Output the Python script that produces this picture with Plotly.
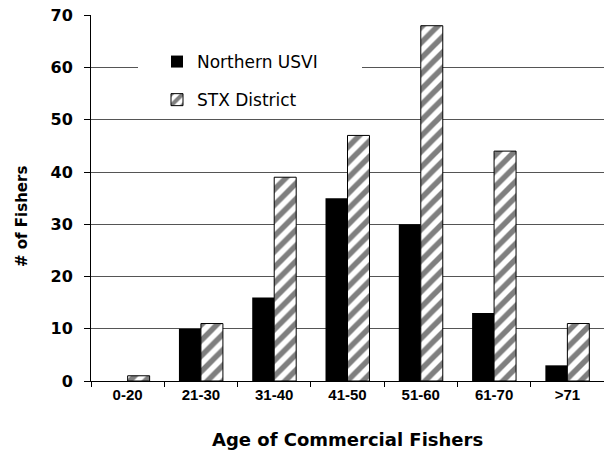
import plotly.graph_objects as go

categories = ["0-20", "21-30", "31-40", "41-50", "51-60", "61-70", ">71"]
northern_usvi = [0, 10, 16, 35, 30, 13, 3]
stx_district = [1, 11, 39, 47, 68, 44, 11]
y_ticks = [0, 10, 20, 30, 40, 50, 60, 70]

ARIAL = "Liberation Sans, Arial, sans-serif"
WIDE = "DejaVu Sans, Verdana, sans-serif"

# the page body margin is removed below, so the figure fills the window
W, H = 604, 450
L, T = 91, 15
B = H - 381
PW, PH = W - L, H - T - B


def px(xs):
    """screen x -> paper x"""
    return (xs - L) / PW


def py(ys):
    """screen y -> paper y"""
    return (H - B - ys) / PH


fig = go.Figure()
fig.add_trace(go.Bar(
    x=categories, y=northern_usvi, name="Northern USVI",
    marker=dict(color="black", line=dict(color="black", width=0)),
    legendgroup="a",
))
fig.add_trace(go.Bar(
    x=categories, y=stx_district, name="STX District",
    marker=dict(color="white", line=dict(color="black", width=1),
                pattern=dict(shape="/", fgcolor="black", bgcolor="white",
                             size=11, solidity=0.5)),
    legendgroup="b",
))

# white legend box that interrupts the gridlines
fig.add_shape(type="rect", xref="paper", yref="paper",
              x0=px(138), x1=px(362), y0=py(112), y1=py(22),
              fillcolor="white", line=dict(width=0), layer="above")

fig.add_annotation(text="Age of Commercial Fishers", xref="paper", yref="paper",
                   x=0.5, y=py(439), xanchor="center", yanchor="middle",
                   showarrow=False,
                   font=dict(size=18, family=WIDE, weight="bold", color="black"))
fig.add_annotation(text="# of Fishers", xref="paper", yref="paper",
                   x=px(22), y=py(217), xanchor="center", yanchor="middle",
                   textangle=-90, showarrow=False,
                   font=dict(size=15, family=WIDE, weight="bold", color="black"))

fig.update_layout(
    width=W, height=H,
    margin=dict(l=L, r=0, t=T, b=B, autoexpand=False),
    paper_bgcolor="white", plot_bgcolor="white",
    barmode="group", bargap=0.4, bargroupgap=0,
    font=dict(family=ARIAL, color="black"),
    showlegend=True,
    legend=dict(
        x=px(157), y=py(44), xanchor="left", yanchor="top",
        bgcolor="rgba(0,0,0,0)", font=dict(size=17, family=WIDE, color="black"),
        traceorder="grouped", tracegroupgap=13,
    ),
    xaxis=dict(
        type="category", tickson="boundaries", ticks="outside", ticklen=5,
        tickcolor="black", showline=True, linecolor="black", linewidth=1,
        tickfont=dict(size=15, family=ARIAL, weight="bold"),
        range=[-0.5, 6.5], automargin=False,
    ),
    yaxis=dict(
        range=[0, 70.05], tickvals=y_ticks, ticks="outside", ticklen=6,
        tickcolor="black", showline=True, linecolor="black", linewidth=1,
        showgrid=True, gridcolor="#555555", gridwidth=1, zeroline=False,
        tickfont=dict(size=16, family=WIDE, weight="bold"),
        ticklabelstandoff=8, ticklabeloverflow="allow", automargin=False,
    ),
)

fig.write_html(
    "out.html",
    config={"displayModeBar": False},
    post_script="document.body.style.margin='0';document.body.style.overflow='hidden';",
)
